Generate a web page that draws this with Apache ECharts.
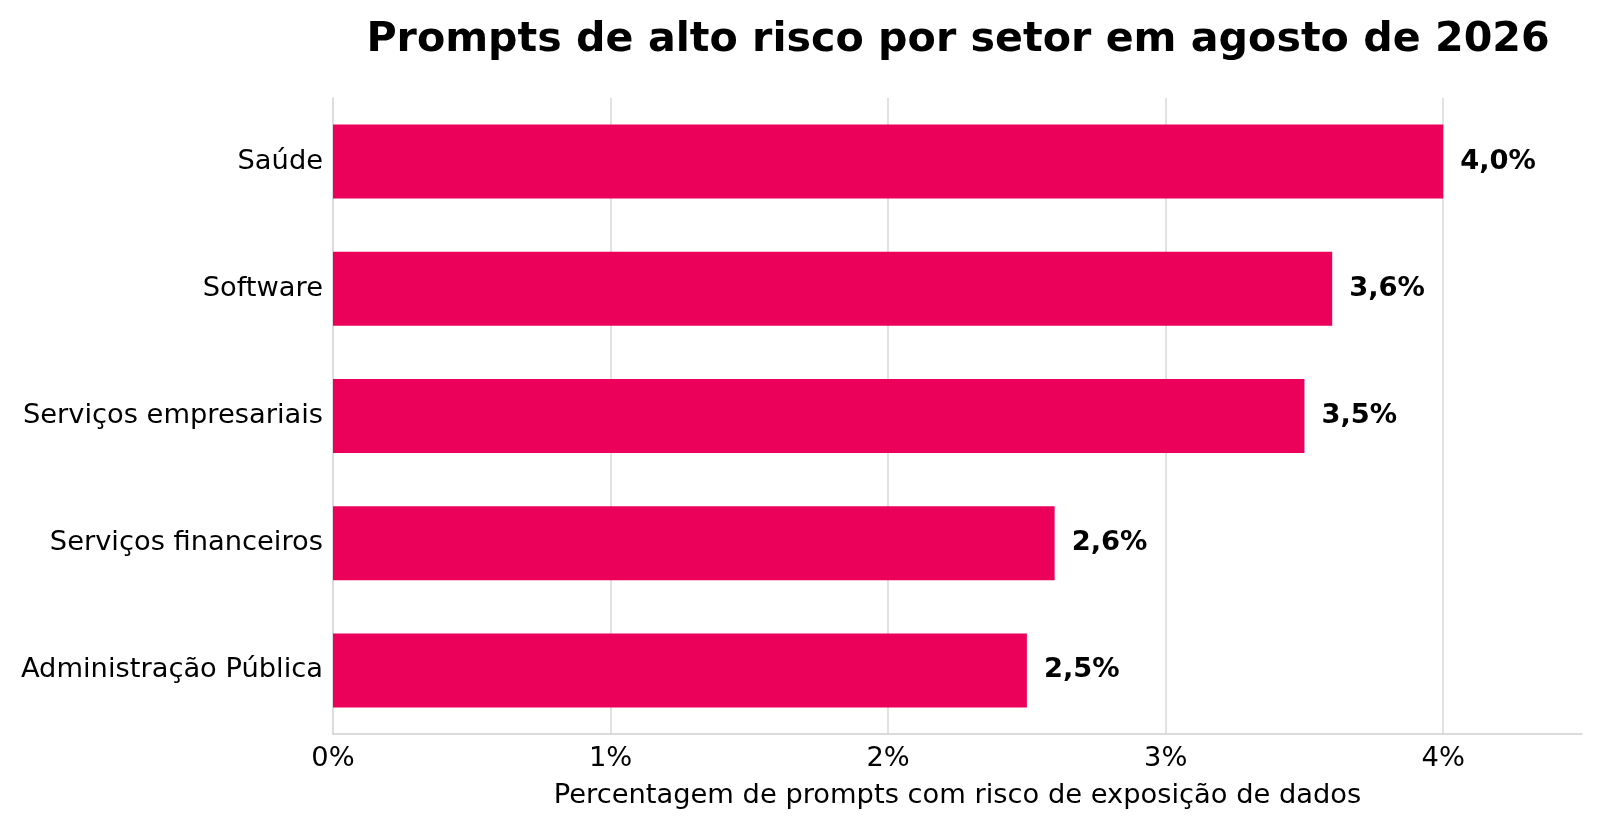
<!DOCTYPE html>
<html>

<head>
    <meta charset="UTF-8">
    <title>Prompts de alto risco por setor</title>
    <script src="https://cdn.jsdelivr.net/npm/echarts@6.0.0/dist/echarts.min.js"></script>
    <style>
        html, body { margin: 0; padding: 0; background: #ffffff; }
    </style>
</head>

<body>
    <div id="main" style="width: 1600px; height: 827px;"></div>
    <script>
        // dados
        const sectors = ['Saúde', 'Software', 'Serviços empresariais', 'Serviços financeiros', 'Administração Pública'];
        const riskPct = [4.0, 3.6, 3.5, 2.6, 2.5];
        const xTicks = [0, 1, 2, 3, 4];

        const font = 'DejaVu Sans';
        const barColor = '#EB005A';
        const gridColor = '#d9d9d9';

        const option = {
            backgroundColor: '#ffffff',
            title: {
                text: 'Prompts de alto risco por setor em agosto de 2026',
                left: 953,
                top: 15,
                textAlign: 'center',
                textStyle: {
                    fontFamily: font,
                    fontSize: 41.2,
                    fontWeight: 'bold',
                    color: '#000000'
                }
            },
            grid: {
                left: 333,
                top: 98,
                width: 1249,
                height: 636,
                containLabel: false
            },
            xAxis: {
                type: 'value',
                min: 0,
                max: 4.5,
                interval: 1,
                name: 'Percentagem de prompts com risco de exposição de dados',
                nameLocation: 'middle',
                nameGap: 48,
                nameTextStyle: {
                    fontFamily: font,
                    fontSize: 27.3,
                    color: '#000000'
                },
                axisLine: { show: true, lineStyle: { color: '#d0d0d0', width: 1.5 } },
                axisTick: { show: false },
                splitLine: { show: false },
                axisLabel: {
                    fontFamily: font,
                    fontSize: 27.3,
                    color: '#000000',
                    margin: 11,
                    showMaxLabel: false,
                    formatter: function (v) {
                        return xTicks.indexOf(v) >= 0 ? v + '%' : '';
                    }
                }
            },
            yAxis: {
                type: 'category',
                data: sectors,
                inverse: true,
                axisLine: { show: true, lineStyle: { color: '#d0d0d0', width: 1.5 } },
                axisTick: { show: false },
                splitLine: { show: false },
                axisLabel: {
                    fontFamily: font,
                    fontSize: 27.3,
                    color: '#000000',
                    margin: 10
                }
            },
            series: [
                {
                    type: 'bar',
                    data: riskPct,
                    barWidth: 74,
                    z: 3,
                    itemStyle: { color: barColor },
                    label: {
                        show: true,
                        position: 'right',
                        distance: 17,
                        fontFamily: font,
                        fontSize: 27.3,
                        fontWeight: 'bold',
                        color: '#000000',
                        formatter: function (p) {
                            return p.value.toFixed(1).replace('.', ',') + '%';
                        }
                    },
                    // linhas de grade verticais só nos ticks 1..4
                    markLine: {
                        silent: true,
                        symbol: 'none',
                        z: 1,
                        label: { show: false },
                        lineStyle: { color: gridColor, width: 1.5, type: 'solid' },
                        data: xTicks.filter(function (t) { return t > 0; }).map(function (t) {
                            return { xAxis: t };
                        })
                    }
                }
            ]
        };

        const myChart = echarts.init(document.getElementById('main'));
        myChart.setOption(option);
    </script>
</body>

</html>
